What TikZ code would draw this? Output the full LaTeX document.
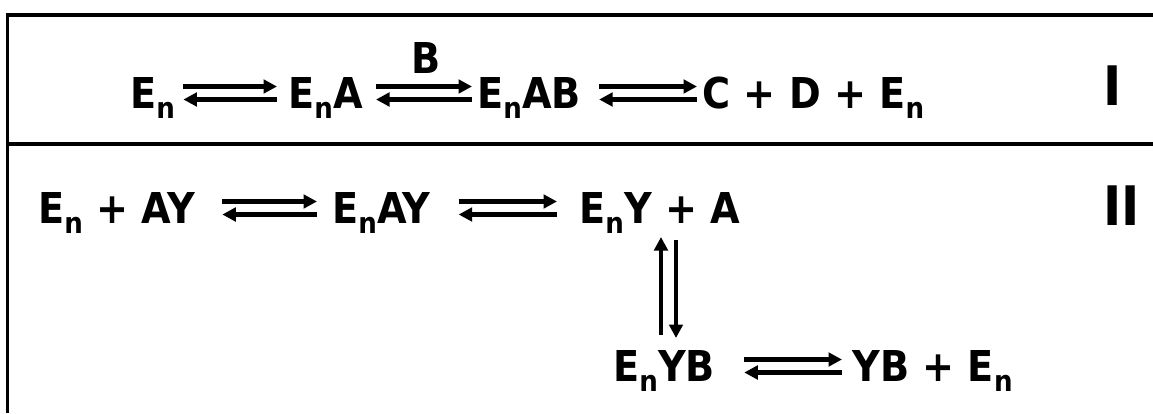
\documentclass[tikz,border=0pt]{standalone}
\usepackage{fontspec}
\setmainfont{DejaVu Sans Condensed}
\usetikzlibrary{calc,arrows.meta}
\newcommand\En{E\raisebox{-6pt}{\fontsize{16.5}{18}\selectfont n}}

\begin{document}
\begin{tikzpicture}[x=0.02cm,y=-0.02cm,
 sp/.style={anchor=base west,inner sep=0,font=\fontsize{24.2}{29}\selectfont\bfseries},
 rn/.style={sp,font=\fontsize{31}{36}\selectfont\bfseries},
 ar/.style={line width=2.3pt,-{Triangle[length=0.27cm,width=0.27cm]}}]
 \useasboundingbox (0,0) rectangle (1153,413);
 % frame
 \draw[line width=2pt] (1153,15) -- (7.7,15) -- (7.7,413);
 \draw[line width=2pt] (7.7,144) -- (1153,144);
 % scheme I
 \node[sp] (en) at (130,108) {\En};
 \node[sp] (ena) at (288,108) {\En A};
 \node[sp] (enab) at (477,108) {\En AB};
 \node[sp] (cde) at (702,108) {C + D + \En};
 \node[sp,anchor=base] (b) at (426,73) {B};
 \node[rn] (one) at (1103,105) {I};
 % scheme II
 \node[sp] (enay0) at (38,223) {\En{} + AY};
 \node[sp] (enay) at (332,223) {\En AY};
 \node[sp] (enya) at (579,223) {\En Y + A};
 \node[sp] (enyb) at (613,381) {\En YB};
 \node[sp] (ybe) at (852,381) {YB + \En};
 \node[rn] (two) at (1103,225) {II};
 % equilibria
 \foreach \a/\b/\l/\r in {en/ena/8/11,ena/enab/13/5,enab/cde/18/5,enay0/enay/27/15,enay/enya/28/22,enyb/ybe/29/10}
 {\draw[ar] ($(\a.base east)+(\l,-21.5)$) -- ($(\b.base west)+(-\r,-21.5)$);
  \draw[ar] ($(\b.base west)+(-\r,-8.5)$) -- ($(\a.base east)+(\l,-8.5)$);}
 \draw[ar] ($(enyb.base west)+(48,-46)$) -- ($(enya.base west)+(82,14)$);
 \draw[ar] ($(enya.base west)+(97,17)$) -- ($(enyb.base west)+(63,-43)$);
\end{tikzpicture}
\end{document}
